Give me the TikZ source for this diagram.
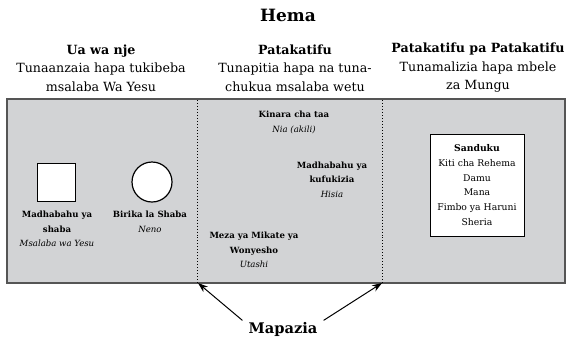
\documentclass[tikz,border=0pt]{standalone}
\usepackage{fontspec}
\setmainfont{DejaVu Serif}
\usetikzlibrary{arrows.meta}
\definecolor{tentgray}{RGB}{210,211,213}
\definecolor{framegray}{RGB}{85,85,85}

\begin{document}
\begin{tikzpicture}[x = 1bp, y = -1bp,
  hdr/.style = {align = center, inner sep = 0pt, font = \fontsize{12.7}{18.5}\selectfont},
  lbl/.style = {align = center, inner sep = 0pt, font = \bfseries\fontsize{8.6}{14.5}\selectfont},
  sep/.style = {line width = 1pt, dash pattern = on 1pt off 2pt}]
\useasboundingbox (0,0) rectangle (566,339);

% the tent
\fill [tentgray] (7,99) rectangle (565,283);
\draw [framegray, line width = 1.5pt] (7,99) rectangle (565,283);
\draw [sep] (197,100) -- (197,283);
\draw [sep] (382,100) -- (382,283);

\node (v0) at (288,15) {\bfseries\fontsize{17}{20}\selectfont Hema};
\node [hdr] (h1) at (101,68) {\textbf{Ua wa nje}\\Tunaanzaia hapa tukibeba\\msalaba Wa Yesu};
\node [hdr] (h2) at (295,68) {\textbf{Patakatifu}\\Tunapitia hapa na tuna-\\chukua msalaba wetu};
\node [hdr] (h3) at (478,68) {\textbf{Patakatifu pa Patakatifu}\\Tunamalizia hapa mbele\\za Mungu};

% outer court
\node [draw, fill = white, line width = 1pt, minimum size = 38bp] (v1) at (56,182) {};
\node [draw, fill = white, circle, line width = 1.2pt, minimum size = 40bp] (v2) at (152,182) {};
\node [lbl] (v3) at (57,229) {Madhabahu ya\\shaba\\{\normalfont\itshape Msalaba wa Yesu}};
\node [lbl] (v4) at (150,222) {Birika la Shaba\\{\normalfont\itshape Neno}};

% holy place
\node [lbl] (v5) at (294,122.5) {Kinara cha taa\\{\normalfont\itshape Nia (akili)}};
\node [lbl] (v6) at (332,179.5) {Madhabahu ya\\kufukizia\\{\normalfont\itshape Hisia}};
\node [lbl] (v7) at (254,250) {Meza ya Mikate ya\\Wonyesho\\{\normalfont\itshape Utashi}};

% most holy place
\node [draw, fill = white, line width = 1pt, minimum width = 94bp, minimum height = 102bp,
  align = center, font = \fontsize{9.3}{14.8}\selectfont] (v8) at (477,185)
  {\textbf{Sanduku}\\Kiti cha Rehema\\Damu\\Mana\\Fimbo ya Haruni\\Sheria};

% curtains
\node [inner xsep = 6bp] (v9) at (283,329) {\bfseries\fontsize{14.7}{17}\selectfont Mapazia};
\coordinate (c1) at (198,283);
\coordinate (c2) at (382,283);
\draw [line width = 1pt] (v9.168) edge [-{Stealth[length = 10bp, width = 7bp]}] (c1);
\draw [line width = 1pt] (v9.12) edge [-{Stealth[length = 10bp, width = 7bp]}] (c2);
\end{tikzpicture}
\end{document}
